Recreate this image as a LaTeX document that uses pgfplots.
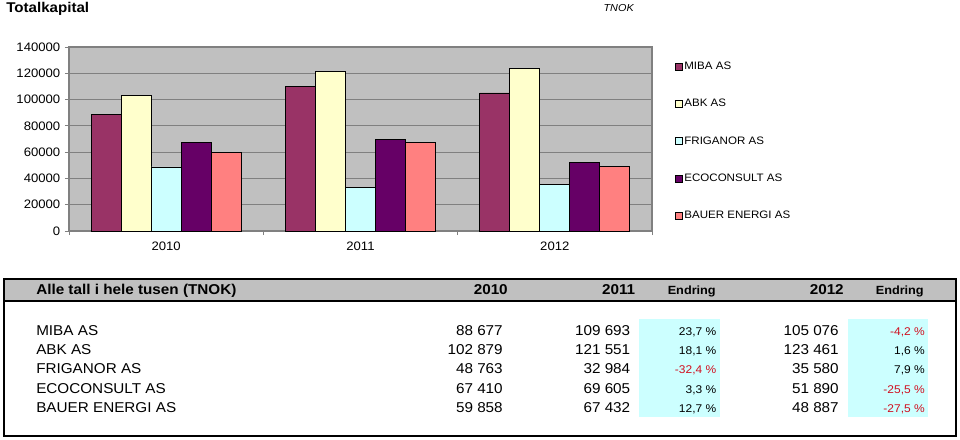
\documentclass[border=0pt]{standalone}
\usepackage{pgfplots}
\pgfplotsset{compat=1.18}
\usepackage{fontspec}
\setmainfont{Liberation Sans}[FakeStretch=1.07]
\definecolor{miba}{HTML}{993366}
\definecolor{abk}{HTML}{FFFFCC}
\definecolor{frig}{HTML}{CCFFFF}
\definecolor{eco}{HTML}{660066}
\definecolor{bauer}{HTML}{FF8080}
\definecolor{plotbg}{HTML}{C0C0C0}
\definecolor{gridc}{HTML}{808080}
\definecolor{neg}{HTML}{D01020}
\newcommand{\fs}[1]{\fontsize{#1}{#1}\selectfont}
\pgfplotsset{sq/.style={legend image code/.code={\draw[##1,draw=black,line width=0.6pt] (0pt,-2.6pt) rectangle (5.2pt,2.6pt);}}}
\begin{document}
\begin{tikzpicture}
\begin{scope}[x=0.75pt,y=-0.75pt]
\fill[white] (0,0) rectangle (960,439);
\node[anchor=base west,font=\fs{10.6}\bfseries,inner sep=0] at (6,12.7) {Totalkapital};
\node[anchor=base east,font=\fs{7.6}\itshape,inner sep=0] at (634,12) {TNOK};
\end{scope}
\begin{axis}[at={(51.75pt,-173.25pt)}, anchor=south west, scale only axis,
  width=437.25pt, height=138pt,
  ybar=0pt, bar width=22.5pt,
  xmin=0, xmax=3, ymin=0, ymax=140000,
  xtick={0,1,2,3}, xticklabels={2010,2011,2012}, x tick label as interval,
  ytick={0,20000,...,140000},
  scaled y ticks=false,
  yticklabel style={/pgf/number format/fixed,/pgf/number format/1000 sep={}},
  xticklabel style={yshift=-1.5pt},
  /pgf/number format/assume math mode=true,
  ymajorgrids, grid style={gridc,line width=0.8pt},
  axis background/.style={fill=plotbg},
  axis line style={gridc,line width=0.8pt},
  tick style={gridc,line width=0.6pt},
  tick align=outside, major tick length=3pt, tick pos=left,
  tick label style={font=\fs{9.2}},
  legend style={at={(1.0395,0.927)}, anchor=north west, draw=none, fill=none,
    font=\fs{8.1}, row sep=18.8pt, inner sep=0pt, nodes={inner sep=1pt}},
  legend cell align=left,
]
\addplot[sq,fill=miba,draw=black,line width=0.6pt] coordinates {(0.5,88677) (1.5,109693) (2.5,105076)};
\addplot[sq,fill=abk,draw=black,line width=0.6pt] coordinates {(0.5,102879) (1.5,121551) (2.5,123461)};
\addplot[sq,fill=frig,draw=black,line width=0.6pt] coordinates {(0.5,48763) (1.5,32984) (2.5,35580)};
\addplot[sq,fill=eco,draw=black,line width=0.6pt] coordinates {(0.5,67410) (1.5,69605) (2.5,51890)};
\addplot[sq,fill=bauer,draw=black,line width=0.6pt] coordinates {(0.5,59858) (1.5,67432) (2.5,48887)};
\legend{MIBA AS,ABK AS,FRIGANOR AS,ECOCONSULT AS,BAUER ENERGI AS}
\end{axis}
\begin{scope}[x=0.75pt,y=-0.75pt]
\fill[plotbg] (4,279) rectangle (956,301);
\fill[frig] (639,319) rectangle (720,417);
\fill[frig] (848,319) rectangle (928,417);
\draw[line width=1.5pt] (4,279) rectangle (956,436);
\draw[line width=1.5pt] (4,301) -- (956,301);
\node[anchor=base west,font=\fs{10.7}\bfseries,inner sep=0] at (36,294) {Alle tall i hele tusen (TNOK)};
\node[anchor=base east,font=\fs{10.7}\bfseries,inner sep=0] at (508,294) {2010};
\node[anchor=base east,font=\fs{10.7}\bfseries,inner sep=0] at (635.5,294) {2011};
\node[anchor=base east,font=\fs{8.9}\bfseries,inner sep=0] at (716,294) {Endring};
\node[anchor=base east,font=\fs{10.7}\bfseries,inner sep=0] at (844,294) {2012};
\node[anchor=base east,font=\fs{8.9}\bfseries,inner sep=0] at (924,294) {Endring};
\foreach \y/\n/\a/\b/\c/\cc/\d/\e/\ec in {
  335.2/MIBA AS/88 677/109 693/{23,7 \%}/black/105 076/{-4,2 \%}/neg,
  354.5/ABK AS/102 879/121 551/{18,1 \%}/black/123 461/{1,6 \%}/black,
  373.8/FRIGANOR AS/48 763/32 984/{-32,4 \%}/neg/35 580/{7,9 \%}/black,
  393.1/ECOCONSULT AS/67 410/69 605/{3,3 \%}/black/51 890/{-25,5 \%}/neg,
  412.4/BAUER ENERGI AS/59 858/67 432/{12,7 \%}/black/48 887/{-27,5 \%}/neg}{
  \node[anchor=base west,font=\fs{10.7},inner sep=0] at (36,\y) {\n};
  \node[anchor=base east,font=\fs{10.7},inner sep=0] at (503,\y) {\a};
  \node[anchor=base east,font=\fs{10.7},inner sep=0] at (630.5,\y) {\b};
  \node[anchor=base east,font=\fs{8.4},inner sep=0,text=\cc] at (716.5,\y) {\c};
  \node[anchor=base east,font=\fs{10.7},inner sep=0] at (839,\y) {\d};
  \node[anchor=base east,font=\fs{8.4},inner sep=0,text=\ec] at (925,\y) {\e};
}
\end{scope}
\end{tikzpicture}
\end{document}
